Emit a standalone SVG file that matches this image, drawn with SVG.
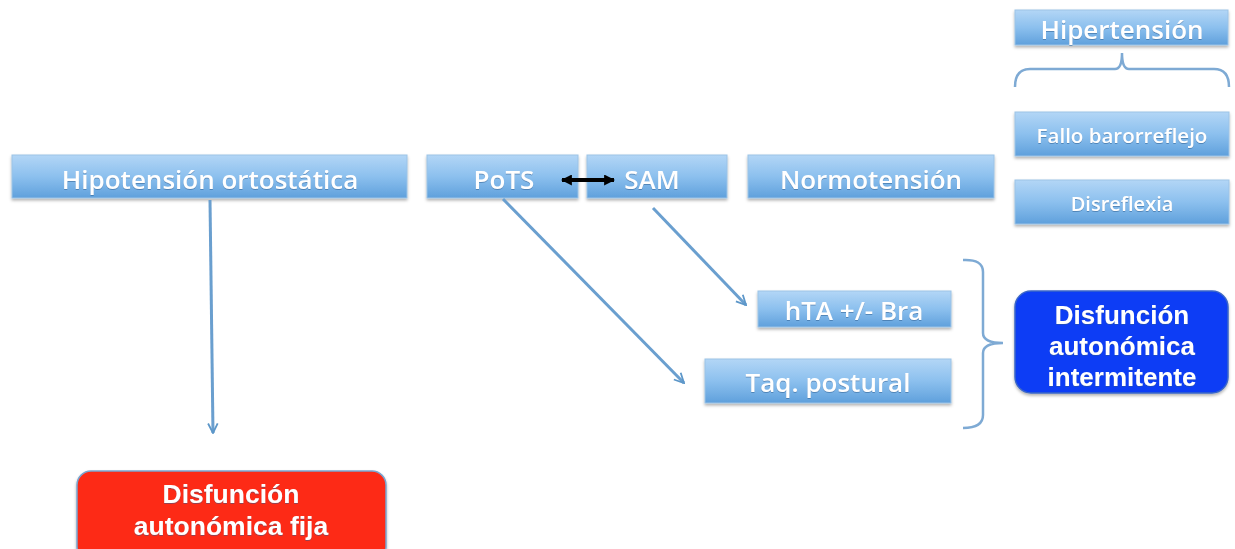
<svg xmlns="http://www.w3.org/2000/svg" width="1235" height="549" viewBox="0 0 1235 549">
<defs>
<linearGradient id="gb" x1="0" y1="0" x2="0" y2="1">
<stop offset="0" stop-color="#b3d6f6"/>
<stop offset="0.5" stop-color="#8cc0ee"/>
<stop offset="1" stop-color="#5fa0dc"/>
</linearGradient>
<filter id="sh" x="-10%" y="-20%" width="120%" height="150%">
<feDropShadow dx="0" dy="2" stdDeviation="1.5" flood-color="#000" flood-opacity="0.3"/>
</filter>
<filter id="ts" x="-5%" y="-20%" width="110%" height="150%">
<feDropShadow dx="0" dy="1" stdDeviation="0.6" flood-color="#2a5a8a" flood-opacity="0.5"/>
</filter>
<marker id="ah" viewBox="0 0 10 10" refX="9" refY="5" markerWidth="12" markerHeight="12" orient="auto" markerUnits="userSpaceOnUse">
<path d="M1,1 L9,5 L1,9" fill="none" stroke="#5d97c9" stroke-width="1.5"/>
</marker>
<marker id="bk" viewBox="0 0 10 10" refX="9" refY="5" markerWidth="11" markerHeight="11" orient="auto-start-reverse" markerUnits="userSpaceOnUse">
<path d="M0,0 L10,5 L0,10 Z" fill="#000"/>
</marker>
</defs>
<style>
.box{fill:url(#gb);stroke:#9cc3e6;stroke-width:1;filter:url(#sh)}
.t{font-family:"Open Sans","Liberation Sans",sans-serif;font-weight:600;fill:#fff;text-anchor:middle;filter:url(#ts)}
.m{font-family:"Liberation Sans",Arial,sans-serif;font-weight:700;fill:#fff;text-anchor:middle;filter:url(#ts)}
.c{stroke:#6a9fcf;stroke-width:3;fill:none}
.br{stroke:#7eaad4;stroke-width:2.5;fill:none}
</style>
<rect width="1235" height="549" fill="#fff"/>
<g id="n-hipotension">
<rect class="box" x="12" y="155" width="395" height="43"/>
<text class="t" x="210" y="189" font-size="26">Hipotensión ortostática</text>
</g>
<g id="n-pots">
<rect class="box" x="427" y="155" width="151" height="43"/>
<text class="t" x="504" y="189" font-size="26">PoTS</text>
</g>
<g id="n-sam">
<rect class="box" x="587" y="155" width="140" height="43"/>
<text class="t" x="652" y="189" font-size="26">SAM</text>
</g>
<g id="n-normo">
<rect class="box" x="748" y="155" width="246" height="43"/>
<text class="t" x="871" y="189" font-size="26">Normotensión</text>
</g>
<g id="n-hiper">
<rect class="box" x="1015" y="10" width="213" height="35"/>
<text class="t" x="1122" y="39" font-size="26">Hipertensión</text>
</g>
<g id="n-fallo">
<rect class="box" x="1015" y="112" width="214" height="44"/>
<text class="t" x="1122" y="143" font-size="20.5">Fallo barorreflejo</text>
</g>
<g id="n-disreflexia">
<rect class="box" x="1015" y="180" width="214" height="44"/>
<text class="t" x="1122" y="211" font-size="20">Disreflexia</text>
</g>
<g id="n-hta">
<rect class="box" x="758" y="291" width="193" height="36"/>
<text class="t" x="854" y="320" font-size="26">hTA +/- Bra</text>
</g>
<g id="n-taq">
<rect class="box" x="705" y="359" width="246" height="44"/>
<text class="t" x="828" y="392" font-size="26">Taq. postural</text>
</g>
<g id="n-intermitente">
<rect x="1015" y="291" width="213" height="102" rx="16" fill="#0a3cf5" stroke="#3a66c8" stroke-width="1.5" filter="url(#sh)"/>
<text class="m" x="1122" y="324" font-size="26">Disfunción</text>
<text class="m" x="1122" y="355" font-size="26">autonómica</text>
<text class="m" x="1122" y="386" font-size="26">intermitente</text>
</g>
<g id="n-fija">
<rect x="77" y="471" width="309" height="90" rx="14" fill="#fd2a14" stroke="#7aa5cf" stroke-width="1.5" filter="url(#sh)"/>
<text class="m" x="231" y="503" font-size="26.5">Disfunción</text>
<text class="m" x="231" y="535" font-size="26.5">autonómica fija</text>
</g>
<g id="connectors">
<path class="c" d="M210,200 L213,433" marker-end="url(#ah)"/>
<path class="c" d="M503,199 L684,383" marker-end="url(#ah)"/>
<path class="c" d="M653,208 L746,305" marker-end="url(#ah)"/>
<path d="M562,180 L614,180" stroke="#000" stroke-width="4" marker-start="url(#bk)" marker-end="url(#bk)"/>
<path class="br" d="M1015,87 Q1015,69 1030,69 L1115,69 Q1122,69 1122,53 Q1122,69 1129,69 L1214,69 Q1229,69 1229,87"/>
<path class="br" d="M963,260 Q983,259 983,272 L983,333 Q983,343 1003,343 Q983,343 983,353 L983,415 Q983,428 963,428"/>
</g>
</svg>
